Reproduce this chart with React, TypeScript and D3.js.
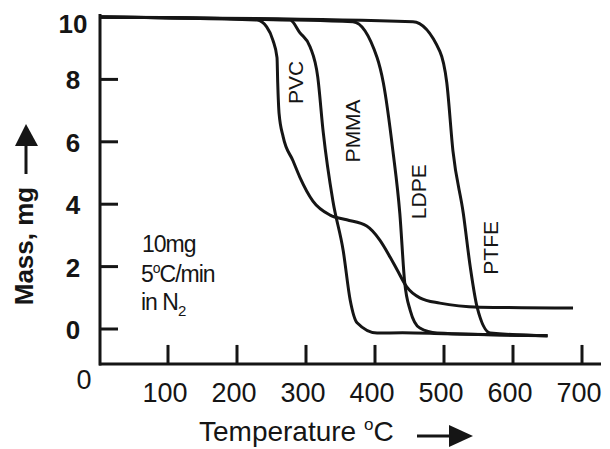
import React from "react";
import * as d3 from "d3";

// Temperature (°C), mass (mg) pairs
const pvcT = [0, 229, 243, 252, 258, 259, 261, 267, 281, 291, 310, 335, 359, 388, 407, 422, 432, 446, 465, 494, 552, 687];
const pvcM = [10, 9.9, 9.68, 9.26, 8.7, 7.9, 6.9, 6.15, 5.4, 4.87, 4.1, 3.65, 3.5, 3.3, 2.85, 2.3, 1.9, 1.35, 1.0, 0.83, 0.7, 0.67];
const pmmaT = [0, 277, 291, 306, 317, 325, 339, 354, 364, 374, 403, 440, 500, 650];
const pmmaM = [10, 9.9, 9.5, 9.04, 8.08, 6.3, 4.1, 2.5, 0.93, 0.2, -0.13, -0.12, -0.15, -0.22];
const ldpeT = [0, 368, 403, 412, 426, 436, 443, 451, 465, 490, 650];
const ldpeM = [10, 9.85, 8.7, 7.9, 5.7, 3.7, 1.5, 0.6, 0.03, -0.13, -0.22];
const ptfeT = [0, 455, 494, 504, 513, 528, 538, 548, 567, 650];
const ptfeM = [10, 9.85, 8.9, 7.9, 5.7, 3.7, 2.0, 0.7, -0.13, -0.22];

const seriesNames = ["PVC", "PMMA", "LDPE", "PTFE"];
const xTicks = [100, 200, 300, 400, 500, 600, 700];
const yTicks = [0, 2, 4, 6, 8, 10];

const FONT = "'Liberation Sans', Arial, Helvetica, sans-serif";
const INK = "#151515";

export default function App() {
  const x = d3.scaleLinear().domain([0, 700]).range([99, 582]);
  const y = d3.scaleLinear().domain([0, 10]).range([329, 17]);

  const line = d3
    .line<[number, number]>()
    .x((d) => x(d[0]))
    .y((d) => y(d[1]))
    .curve(d3.curveMonotoneX);

  const zip = (t: number[], m: number[]) => t.map((v, i) => [v, m[i]] as [number, number]);
  const series = [zip(pvcT, pvcM), zip(pmmaT, pmmaM), zip(ldpeT, ldpeM), zip(ptfeT, ptfeM)];

  // label anchor positions (data coords), rotated text
  const labelPos: [number, number][] = [
    [285, 7.9],
    [368, 6.35],
    [463, 4.4],
    [567, 2.6],
  ];

  const axisY = y(-1.12);

  return (
    <svg
      width={610}
      height={449}
      style={{ position: "absolute", left: 0, top: 0, background: "#fff" }}
      fontFamily={FONT}
    >
      <rect width={610} height={449} fill="#fff" />
      {/* axes */}
      <line x1={x(0) + 1} y1={14} x2={x(0) + 1} y2={axisY + 1.5} stroke={INK} strokeWidth={3} />
      <line x1={x(0)} y1={axisY} x2={601} y2={axisY} stroke={INK} strokeWidth={3} />
      {yTicks.slice(0, -1).map((t) => (
        <line key={"yt" + t} x1={x(0) + 1} x2={x(0) + 19} y1={y(t)} y2={y(t)} stroke={INK} strokeWidth={3} />
      ))}
      {yTicks.map((t) => (
        <text
          key={"yl" + t}
          x={73}
          y={y(t) + (t === 10 ? 7 : 1)}
          textAnchor="middle"
          dominantBaseline="central"
          fontSize={26}
          fontWeight="bold"
          fill={INK}
        >
          {t}
        </text>
      ))}
      {xTicks.map((t) => (
        <line key={"xt" + t} x1={x(t)} x2={x(t)} y1={axisY} y2={axisY - 19} stroke={INK} strokeWidth={3} />
      ))}
      {xTicks.map((t) => (
        <text key={"xl" + t} x={x(t) - 3} y={402} textAnchor="middle" fontSize={27} fill={INK}>
          {t}
        </text>
      ))}
      <text x={84} y={389} textAnchor="middle" fontSize={27} fill={INK}>
        0
      </text>

      {/* curves */}
      {series.map((s, i) => (
        <path key={seriesNames[i]} d={line(s) || ""} fill="none" stroke={INK} strokeWidth={3} strokeLinejoin="round" />
      ))}
      {seriesNames.map((n, i) => (
        <text
          key={"lab" + n}
          transform={`translate(${x(labelPos[i][0])},${y(labelPos[i][1])}) rotate(-90)`}
          textAnchor="middle"
          dominantBaseline="central"
          fontSize={21}
          fill={INK}
        >
          {n}
        </text>
      ))}

      {/* annotation */}
      <text x={142} y={252} fontSize={23} fill={INK} letterSpacing={-1}>
        10mg
      </text>
      <text x={141} y={282} fontSize={23} fill={INK} letterSpacing={-1}>
        5<tspan fontSize={14} dy={-9}>o</tspan>
        <tspan dy={9}>C/min</tspan>
      </text>
      <text x={141} y={310} fontSize={23} fill={INK} letterSpacing={-1}>
        in N<tspan fontSize={15} dy={6}>2</tspan>
      </text>

      {/* y title */}
      <text
        transform="translate(33,246) rotate(-90)"
        textAnchor="middle"
        fontSize={26}
        fontWeight="bold"
        fill={INK}
      >
        Mass, mg
      </text>
      <line x1={26} y1={174} x2={26} y2={140} stroke={INK} strokeWidth={3} />
      <path d="M15,146 L26,124 L38,146 Z" fill={INK} />

      {/* x title */}
      <text x={199} y={441} fontSize={28} fill={INK}>
        Temperature <tspan fontSize={17} dy={-11}>o</tspan>
        <tspan dy={11}>C</tspan>
      </text>
      <line x1={417} y1={436} x2={452} y2={436} stroke={INK} strokeWidth={3} />
      <path d="M449,425 L473,436 L449,447 Z" fill={INK} />
    </svg>
  );
}
